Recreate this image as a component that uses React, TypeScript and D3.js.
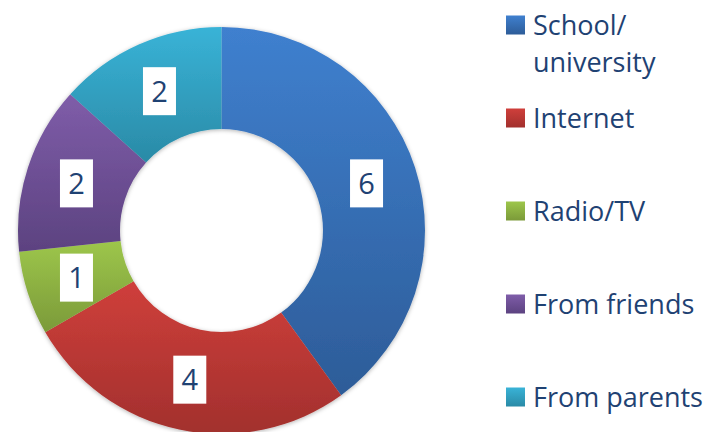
import React, { useEffect, useRef } from "react";
import * as d3 from "d3";

const categories = ["School/university", "Internet", "Radio/TV", "From friends", "From parents"];
const legendLines = [["School/", "university"], ["Internet"], ["Radio/TV"], ["From friends"], ["From parents"]];
const values = [6, 4, 1, 2, 2];
const topColors = ["#3f80cf", "#cf3f3b", "#9dc64b", "#7f5da9", "#39b3d7"];
const bottomColors = ["#2d5c98", "#a2302d", "#7b9a39", "#5c4280", "#2a8aa6"];

export default function App() {
  const svgRef = useRef<SVGSVGElement | null>(null);

  useEffect(() => {
    if (!svgRef.current) return;
    const svg = d3.select(svgRef.current);
    svg.selectAll("*").remove();

    const cx = 221.5;
    const cy = 230.5;
    const outer = 203.5;
    const inner = 101.5;
    const textColor = "#1f4273";

    const defs = svg.append("defs");
    topColors.forEach((c, i) => {
      const grad = defs
        .append("linearGradient")
        .attr("id", `g${i}`)
        .attr("x1", 0)
        .attr("y1", 0)
        .attr("x2", 0)
        .attr("y2", 1);
      grad.append("stop").attr("offset", "0%").attr("stop-color", c);
      grad.append("stop").attr("offset", "100%").attr("stop-color", bottomColors[i]);
    });
    const shadow = defs.append("filter").attr("id", "shadow").attr("x", "-10%").attr("y", "-10%").attr("width", "120%").attr("height", "120%");
    shadow.append("feDropShadow").attr("dx", 0).attr("dy", 1).attr("stdDeviation", 2).attr("flood-color", "#000").attr("flood-opacity", 0.3);

    const pie = d3.pie<number>().sort(null).value((d) => d);
    const arc = d3.arc<d3.PieArcDatum<number>>().innerRadius(inner).outerRadius(outer);
    const arcs = pie(values);

    const g = svg.append("g").attr("transform", `translate(${cx},${cy})`);

    g.append("g")
      .attr("filter", "url(#shadow)")
      .selectAll("path")
      .data(arcs)
      .join("path")
      .attr("d", arc)
      .attr("fill", (d, i) => `url(#g${i})`);

    const labels = g.selectAll("g.lbl").data(arcs).join("g").attr("class", "lbl")
      .attr("transform", (d) => `translate(${arc.centroid(d)})`);
    labels.append("rect").attr("x", -16.5).attr("y", -24).attr("width", 33).attr("height", 48).attr("fill", "#fff");
    labels.append("text")
      .attr("text-anchor", "middle")
      .attr("dy", "0.36em")
      .attr("font-family", "'Open Sans', sans-serif")
      .attr("font-size", 29)
      .attr("fill", textColor)
      .text((d) => d.data);

    const legend = svg.append("g");
    const y = d3.scaleLinear().domain([0, 1]).range([25, 118]);
    categories.forEach((c, i) => {
      const row = legend.append("g").attr("transform", `translate(506,${y(i)})`);
      row.append("rect").attr("x", 0).attr("y", -9.5).attr("width", 19).attr("height", 19).attr("fill", `url(#g${i})`);
      const t = row.append("text")
        .attr("font-family", "'Open Sans', sans-serif")
        .attr("font-size", 27)
        .attr("fill", textColor);
      legendLines[i].forEach((line, j) => {
        t.append("tspan").attr("x", 27).attr("y", 9.5 + j * 37).text(line);
      });
    });
  }, []);

  return (
    <svg ref={svgRef} width={713} height={432} style={{ position: "absolute", left: 0, top: 0, background: "#fff" }} />
  );
}
